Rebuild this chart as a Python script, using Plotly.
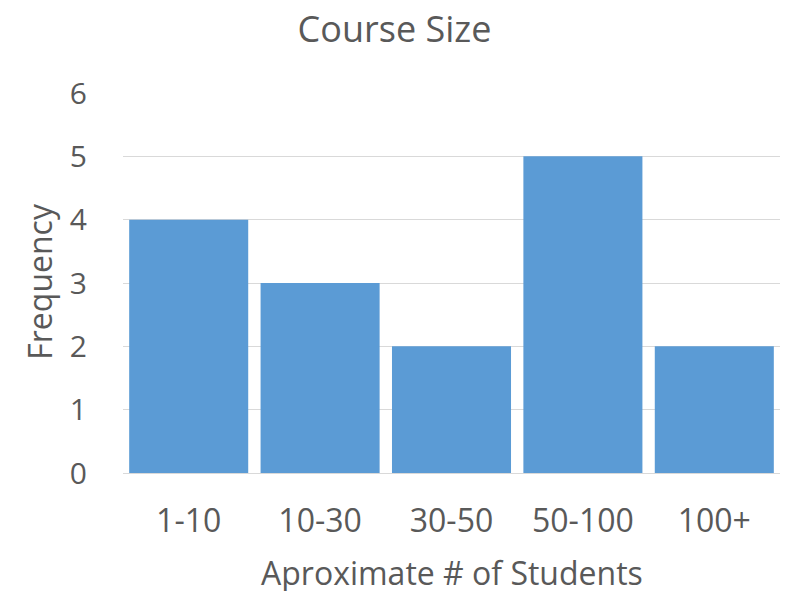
import plotly.graph_objects as go

# Histogram of course sizes
size_bins = ["1-10", "10-30", "30-50", "50-100", "100+"]
frequency = [4, 3, 2, 5, 2]
y_ticks = [0, 1, 2, 3, 4, 5, 6]

text_color = "#595959"
font_family = "Open Sans, Segoe UI, sans-serif"

fig = go.Figure(
    go.Bar(
        x=size_bins,
        y=frequency,
        marker=dict(color="#5B9BD5", line=dict(width=0)),
    )
)

fig.update_layout(
    width=786,
    height=591,
    margin=dict(l=123, r=6, t=93, b=118),
    paper_bgcolor="white",
    plot_bgcolor="white",
    bargap=0.094,
    showlegend=False,
    font=dict(family=font_family, color=text_color, size=28),
    title=dict(
        text="Course Size",
        x=394.5 / 786,
        xref="container",
        xanchor="center",
        y=1 - 29 / 591,
        yanchor="middle",
        font=dict(size=36, color=text_color),
    ),
    xaxis=dict(
        showgrid=False,
        showline=True,
        linecolor="#D9D9D9",
        linewidth=1,
        ticks="",
        ticklabelstandoff=20,
        tickfont=dict(size=32),
    ),
    yaxis=dict(
        range=[0, 6],
        tickvals=y_ticks,
        showgrid=True,
        gridcolor="#D9D9D9",
        gridwidth=1,
        zeroline=False,
        showline=False,
        ticks="",
        ticklabelstandoff=35,
        tickfont=dict(size=30),
    ),
    annotations=[
        dict(
            text="Frequency",
            textangle=-90,
            xref="paper",
            yref="paper",
            x=-(123 - 40) / 657,
            y=(472.5 - 281.5) / 379.5,
            xanchor="center",
            yanchor="middle",
            showarrow=False,
            font=dict(size=32, color=text_color),
        ),
        dict(
            text="Aproximate # of Students",
            xref="paper",
            yref="paper",
            x=(451.5 - 123) / 657,
            y=-(572 - 472.5) / 379.5,
            xanchor="center",
            yanchor="middle",
            showarrow=False,
            font=dict(size=32, color=text_color),
        ),
    ],
)

fig.write_html("out.html")
